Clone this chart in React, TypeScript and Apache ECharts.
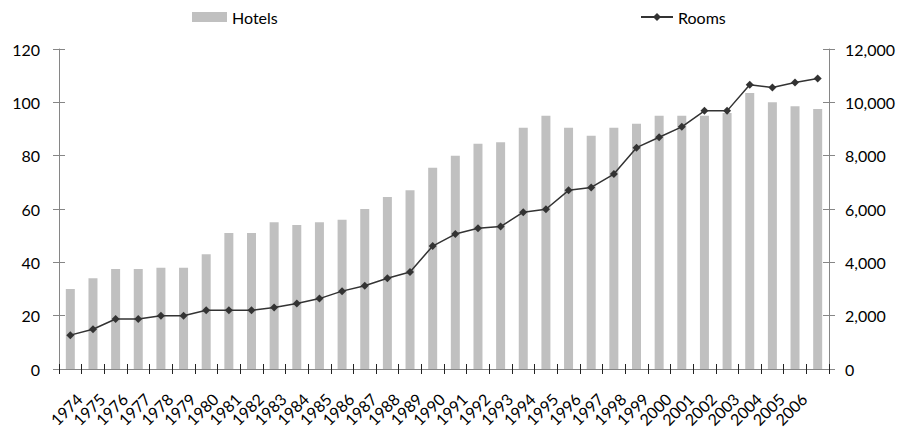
import React, { useEffect, useRef } from "react";
import * as echarts from "echarts";

const years = [
  "1974", "1975", "1976", "1977", "1978", "1979", "1980", "1981", "1982", "1983",
  "1984", "1985", "1986", "1987", "1988", "1989", "1990", "1991", "1992", "1993",
  "1994", "1995", "1996", "1997", "1998", "1999", "2000", "2001", "2002", "2003",
  "2004", "2005", "2006", "",
];

const hotels = [
  30, 34, 37.5, 37.5, 38, 38, 43, 51, 51, 55, 54, 55, 56,
  60, 64.5, 67, 75.5, 80, 84.5, 85, 90.5, 95, 90.5, 87.5, 90.5,
  92, 95, 95, 95, 96, 103.5, 100, 98.5, 97.5,
];

const rooms = [
  1270, 1490, 1875, 1875, 2000, 2000, 2200, 2200, 2200, 2310, 2460, 2640, 2920,
  3125, 3400, 3640, 4610, 5060, 5280, 5340, 5880, 5990, 6700, 6810, 7310,
  8300, 8690, 9080, 9680, 9680, 10660, 10560, 10740, 10890,
];

const leftTicks = { min: 0, max: 120, interval: 20 };
const rightTicks = { min: 0, max: 12000, interval: 2000 };

const FONT = "Lato";
const AXIS_GRAY = "#868686";
const LABEL_DX = 9;

export default function App() {
  const ref = useRef<HTMLDivElement>(null);
  useEffect(() => {
    if (!ref.current) return;
    const chart = echarts.init(ref.current, undefined, { renderer: "svg" });
    const fmt = (v: number) => v.toLocaleString("en-US");
    const yBase = (pos: "left" | "right", t: any, inside: boolean, showLabel: boolean, margin: number) => ({
      type: "value",
      position: pos,
      min: t.min,
      max: t.max,
      interval: t.interval,
      splitLine: { show: false },
      axisLine: { show: !inside, lineStyle: { color: AXIS_GRAY, width: 1 } },
      axisTick: { show: true, inside, length: 6, lineStyle: { color: AXIS_GRAY } },
      axisLabel: {
        show: showLabel,
        color: "#000",
        fontFamily: FONT,
        fontSize: 16,
        margin,
        formatter: (v: number) => fmt(v),
      },
    });
    const xBase = (inside: boolean) => ({
      type: "category",
      data: years,
      gridIndex: 0,
      position: "bottom",
      boundaryGap: true,
      axisLine: { show: !inside, lineStyle: { color: AXIS_GRAY, width: 1 } },
      axisTick: { show: true, inside, length: 5, interval: 0, lineStyle: { color: "#222" } },
      axisLabel: { show: false },
    });
    chart.setOption({
      animation: false,
      backgroundColor: "#fff",
      grid: [
        { left: 59, right: 72, top: 49, bottom: 61, containLabel: false },
        { left: 59 + LABEL_DX, right: 72 - LABEL_DX, top: 49, bottom: 61, containLabel: false },
      ],
      legend: [
        {
          data: ["Hotels"],
          left: 187,
          top: 4,
          icon: "rect",
          itemWidth: 35,
          itemHeight: 10,
          textStyle: { fontFamily: FONT, fontSize: 16, color: "#000" },
        },
        {
          data: ["Rooms"],
          left: 635,
          top: 4,
          itemWidth: 32,
          itemHeight: 10,
          textStyle: { fontFamily: FONT, fontSize: 16, color: "#000" },
        },
      ],
      xAxis: [
        xBase(false),
        xBase(true),
        {
          type: "category",
          data: years,
          gridIndex: 1,
          position: "bottom",
          boundaryGap: true,
          axisLine: { show: false },
          axisTick: { show: false },
          axisLabel: {
            show: true,
            interval: 0,
            rotate: 45,
            color: "#000",
            fontFamily: FONT,
            fontSize: 16,
            margin: 36,
          },
        },
      ],
      yAxis: [
        yBase("left", leftTicks, false, true, 19),
        yBase("right", rightTicks, false, true, 16),
        yBase("left", leftTicks, true, false, 8),
        yBase("right", rightTicks, true, false, 8),
        {
          type: "value",
          gridIndex: 1,
          min: 0,
          max: 1,
          show: false,
        },
      ],
      series: [
        {
          name: "Hotels",
          type: "bar",
          xAxisIndex: 0,
          yAxisIndex: 0,
          data: hotels,
          barWidth: 9,
          itemStyle: { color: "#c0c0c0" },
        },
        {
          name: "Rooms",
          type: "line",
          xAxisIndex: 0,
          yAxisIndex: 1,
          data: rooms,
          symbol: "diamond",
          symbolSize: 8,
          lineStyle: { color: "#333", width: 1.5 },
          itemStyle: { color: "#333" },
        },
      ],
    });
    return () => chart.dispose();
  }, []);
  return <div ref={ref} style={{ width: 901, height: 430, position: "absolute", left: 0, top: 0 }} />;
}
